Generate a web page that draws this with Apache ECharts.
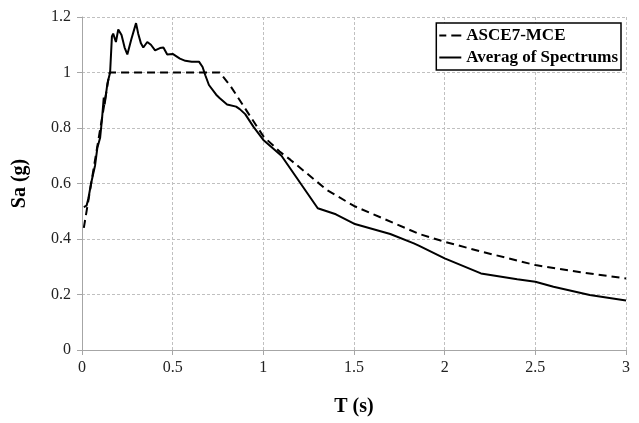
<!DOCTYPE html>
<html>
<head>
<meta charset="utf-8">
<script src="https://cdn.jsdelivr.net/npm/echarts@6/dist/echarts.min.js"></script>
<style>html,body{margin:0;padding:0;background:#fff}#c{width:639px;height:423px}</style>
</head>
<body>
<div id="c"></div>
<script>
var seriesNames = ['ASCE7-MCE', 'Averag of Spectrums'];
var xTicks = [0, 0.5, 1, 1.5, 2, 2.5, 3];
var yTicks = [0, 0.2, 0.4, 0.6, 0.8, 1, 1.2];

var mceT  = [0.01, 0.152, 0.76, 0.82, 0.91, 1.0, 1.09, 1.15, 1.35, 1.5, 1.86, 2.0, 2.2, 2.5, 2.75, 3.0];
var mceSa = [0.44, 1.0, 1.0, 0.95, 0.86, 0.77, 0.715, 0.685, 0.577, 0.519, 0.418, 0.39, 0.355, 0.306, 0.28, 0.258];

var avgT  = [0.01, 0.025, 0.035, 0.05, 0.06, 0.072, 0.085, 0.1, 0.11, 0.12, 0.125, 0.14, 0.155, 0.165, 0.172, 0.187, 0.2, 0.218, 0.235, 0.25, 0.272, 0.298, 0.31, 0.325, 0.338, 0.36, 0.38, 0.403, 0.43, 0.449, 0.47, 0.5, 0.54, 0.57, 0.605, 0.645, 0.665, 0.68, 0.7, 0.74, 0.76, 0.8, 0.85, 0.87, 0.9, 0.945, 1.0, 1.1, 1.3, 1.4, 1.5, 1.7, 1.83, 1.86, 2.0, 2.2, 2.4, 2.5, 2.6, 2.8, 3.0];
var avgSa = [0.515, 0.52, 0.545, 0.6, 0.63, 0.665, 0.73, 0.765, 0.83, 0.91, 0.885, 0.96, 1.0, 1.13, 1.14, 1.11, 1.155, 1.135, 1.09, 1.065, 1.12, 1.178, 1.14, 1.105, 1.09, 1.11, 1.1, 1.08, 1.088, 1.09, 1.065, 1.067, 1.05, 1.042, 1.039, 1.039, 1.02, 0.99, 0.955, 0.92, 0.907, 0.885, 0.877, 0.868, 0.85, 0.805, 0.757, 0.7, 0.511, 0.489, 0.455, 0.418, 0.384, 0.375, 0.33, 0.276, 0.255, 0.246, 0.228, 0.198, 0.178];

function zip(a, b) { return a.map(function (v, i) { return [v, b[i]]; }); }

var font = '"Liberation Serif", "DejaVu Serif", serif';
var chart = echarts.init(document.getElementById('c'), null, {renderer: 'canvas'});
chart.setOption({
  animation: false,
  backgroundColor: '#ffffff',
  grid: {left: 82, right: 13, top: 17, bottom: 73},
  legend: {
    show: true,
    orient: 'vertical',
    right: 18, top: 23,
    padding: [4, 3, 4, 3],
    itemGap: 5,
    itemWidth: 22, itemHeight: 14,
    borderColor: '#000', borderWidth: 1.5,
    backgroundColor: '#fff',
    textStyle: {fontFamily: font, fontWeight: 'bold', fontSize: 17, color: '#000'},
    data: [
      {name: seriesNames[0], icon: 'path://M0,0H7V2H0Z M12,0H22V2H12Z'},
      {name: seriesNames[1], icon: 'path://M0,0H22V2H0Z'}
    ]
  },
  xAxis: {
    type: 'value', min: xTicks[0], max: xTicks[xTicks.length - 1], interval: 0.5,
    name: 'T (s)', nameLocation: 'middle', nameGap: 47,
    nameTextStyle: {fontFamily: font, fontWeight: 'bold', fontSize: 20, color: '#000'},
    axisLine: {lineStyle: {color: '#a6a6a6', width: 1}},
    axisTick: {show: true, length: 5, lineStyle: {color: '#a6a6a6'}},
    axisLabel: {fontFamily: font, fontSize: 16, color: '#222', margin: 10},
    splitLine: {show: true, lineStyle: {color: '#c0c0c0', type: [3, 2], width: 1}}
  },
  yAxis: {
    type: 'value', min: yTicks[0], max: yTicks[yTicks.length - 1], interval: 0.2,
    name: 'Sa (g)', nameLocation: 'middle', nameGap: 52, nameRotate: 90,
    nameTextStyle: {fontFamily: font, fontWeight: 'bold', fontSize: 20, color: '#000'},
    axisLine: {show: true, lineStyle: {color: '#a6a6a6', width: 1}},
    axisTick: {show: true, length: 5, lineStyle: {color: '#a6a6a6'}},
    axisLabel: {fontFamily: font, fontSize: 16, color: '#222', margin: 11,
      formatter: function (v) { return String(Math.round(v * 10) / 10); }},
    splitLine: {show: true, lineStyle: {color: '#c0c0c0', type: [3, 2], width: 1}}
  },
  series: [
    {
      name: seriesNames[0], type: 'line', data: zip(mceT, mceSa),
      symbol: 'none', smooth: false,
      lineStyle: {color: '#000', width: 2, type: [8, 5]},
      itemStyle: {color: '#000'}
    },
    {
      name: seriesNames[1], type: 'line', data: zip(avgT, avgSa),
      symbol: 'none', smooth: false,
      lineStyle: {color: '#000', width: 2, type: 'solid'},
      itemStyle: {color: '#000'}
    }
  ]
});
</script>
</body>
</html>
